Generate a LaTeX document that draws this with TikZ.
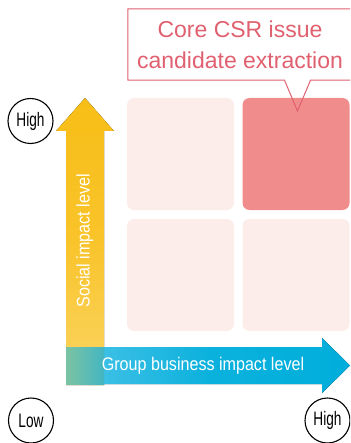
\documentclass[tikz,border=0pt]{standalone}
\usepackage{fontspec}
\setmainfont{Liberation Sans}
\newfontfamily\condfont{Liberation Sans}[FakeStretch=0.88]
\newfontfamily\narrowfont{Liberation Sans}[FakeStretch=0.70]
\usetikzlibrary{positioning, calc}
\definecolor{cpink}{HTML}{E0606F}
\definecolor{csoft}{HTML}{FCEDEA}
\definecolor{cdark}{HTML}{F08D8C}
\definecolor{cyellow}{HTML}{F8BE17}
\definecolor{cyellowlt}{HTML}{FBD565}
\definecolor{cblue}{HTML}{00AEDB}
\definecolor{cbluelt}{HTML}{4CC4E8}
\definecolor{cteal}{HTML}{7BC3A2}
\definecolor{ctealdk}{HTML}{43B6C2}
\tikzset{
  cell/.style={fill=#1, rounded corners=7pt, inner sep=0pt, minimum width=107pt, minimum height=112pt},
  cell/.default=csoft,
  level/.style={draw=black, line width=1.1pt, circle, minimum size=45pt, inner sep=0pt, font=\narrowfont\fontsize{19.5}{20}\selectfont},
  axislabel/.style={text=white, inner sep=0pt, font=\condfont\fontsize{18.3}{20}\selectfont},
}

\begin{document}
\begin{tikzpicture}[x=1pt, y=-1pt]
  \useasboundingbox (0,0) rectangle (350,443);
  \clip (0,0) rectangle (350,443);

  % ---- matrix cells
  \node[cell] (hilo) at (180.5,154) {};
  \node[cell=cdark] (hihi) at (296,154) {};
  \node[cell] (lolo) at (180.5,275) {};
  \node[cell] (lohi) at (296,275) {};

  % ---- axes
  \fill[top color=cyellow, bottom color=cyellowlt, middle color=cyellow!75!cyellowlt]
    (66,385) -- (66,131) -- (56,131) -- (85,98) -- (114,131) -- (104,131) -- (104,385) -- cycle;
  \fill[left color=cbluelt, right color=cblue, middle color=cblue!85!cbluelt]
    (66,347) -- (322,347) -- (322,338) -- (350,365.5) -- (322,393) -- (322,384) -- (66,384) -- cycle;
  \fill[left color=cteal, right color=ctealdk] (66,347) rectangle (104,384);

  \node[axislabel, rotate=90] (soc) at (85,241) {Social impact level};
  \node[axislabel] (bus) at (203,366) {Group business impact level};

  % ---- levels
  \node[level] (ytop) at (30.5,121) {High};
  \node[level] (orig) at (31,420.5) {Low};
  \node[level] (xtop) at (327.5,420.5) {High};

  % ---- callout
  \node[text=cpink, align=center, inner sep=0pt, minimum width=224pt, minimum height=71pt,
        font=\fontsize{23}{31}\selectfont] (core) at (240,44.5) {Core CSR issue\\candidate extraction};
  \coordinate (tip) at (297.5,111);
  \draw[cpink, line width=1pt, line join=miter]
    ($(tip |- core.south)+(-13,0)$) -- (core.south west) -- (core.north west)
    -- ($(core.north east)+(20,0)$) -- ($(core.south east)+(20,0)$) -- ($(tip |- core.south)+(13,0)$)
    -- (tip) -- cycle;
\end{tikzpicture}
\end{document}
